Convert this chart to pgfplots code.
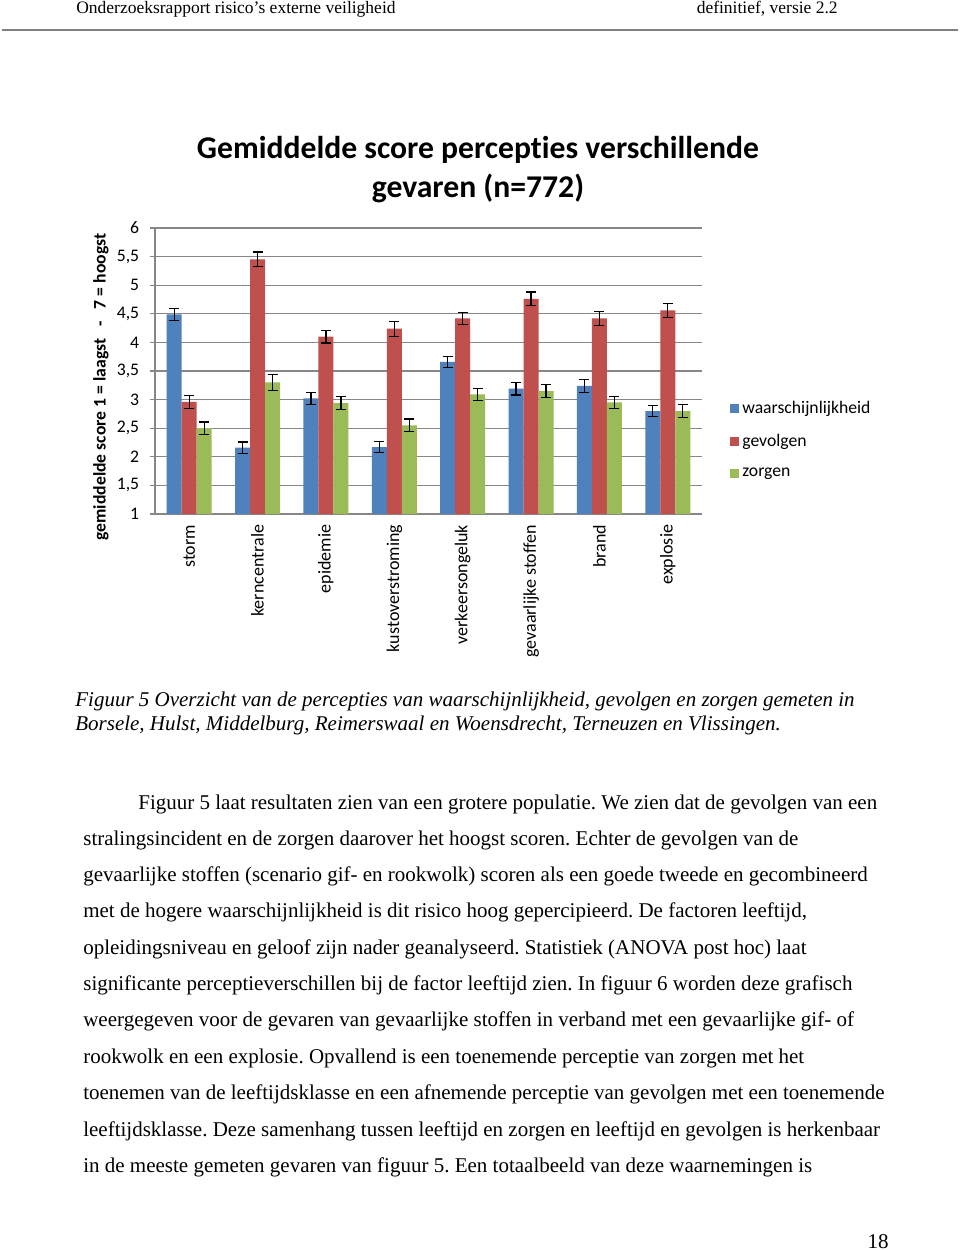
\documentclass[border=0pt]{standalone}
\usepackage{pgfplots}
\pgfplotsset{compat=1.18}
\usepackage{pgfplotstable}
\usepackage{fontspec}
\setmainfont{Liberation Serif}
\newfontfamily\calfont[Ligatures=NoCommon]{Carlito}
\definecolor{cblue}{HTML}{4F81BD}
\definecolor{cred}{HTML}{C0504D}
\definecolor{cgreen}{HTML}{9BBB59}
\definecolor{cgrid}{HTML}{878787}
\frenchspacing

\pgfplotstableread{
x w ew g eg z ez
0 4.49 0.11 2.96 0.11 2.50 0.11
1 2.16 0.10 5.45 0.13 3.30 0.14
2 3.02 0.10 4.10 0.11 2.94 0.11
3 2.17 0.10 4.24 0.13 2.55 0.11
4 3.66 0.10 4.42 0.11 3.09 0.11
5 3.19 0.11 4.76 0.12 3.15 0.12
6 3.24 0.11 4.42 0.12 2.95 0.11
7 2.80 0.10 4.56 0.12 2.80 0.12
}\data

\begin{document}
\begin{tikzpicture}
\begin{scope}[x=0.6pt,y=-0.6pt]
\fill[white] (0,0) rectangle (960,1250);
\node[anchor=base west, inner sep=0, font=\fontsize{10.5}{12}\selectfont] at (76,13) {Onderzoeksrapport risico’s externe veiligheid};
\node[anchor=base east, inner sep=0, font=\fontsize{10.5}{12}\selectfont] at (838,13) {definitief, versie 2.2};
\draw[gray, line width=0.7pt] (2,30) -- (958,30);
\node[inner sep=0, font=\calfont\bfseries\fontsize{19}{22}\selectfont] at (478,150) {Gemiddelde score percepties verschillende};
\node[inner sep=0, font=\calfont\bfseries\fontsize{19}{22}\selectfont] at (478,188) {gevaren (n=772)};
\node[rotate=90, inner sep=0, font=\calfont\bfseries\fontsize{10.6}{12}\selectfont] at (101,387) {gemiddelde score 1 = laagst\ \ \ -\ \ \ 7 = hoogst};
\node[anchor=base west, inner sep=0, font=\itshape\fontsize{12.6}{14}\selectfont] at (75,706) {Figuur 5 Overzicht van de percepties van waarschijnlijkheid, gevolgen en zorgen gemeten in};
\node[anchor=base west, inner sep=0, font=\itshape\fontsize{12.6}{14}\selectfont] at (75,730) {Borsele, Hulst, Middelburg, Reimerswaal en Woensdrecht, Terneuzen en Vlissingen.};
\begin{scope}[every node/.style={anchor=base west, inner sep=0, font=\fontsize{12.6}{14}\selectfont}]
\node at (138,809) {Figuur 5 laat resultaten zien van een grotere populatie. We zien dat de gevolgen van een};
\node at (83,845) {stralingsincident en de zorgen daarover het hoogst scoren. Echter de gevolgen van de};
\node at (83,881) {gevaarlijke stoffen (scenario gif- en rookwolk) scoren als een goede tweede en gecombineerd};
\node at (83,917) {met de hogere waarschijnlijkheid is dit risico hoog gepercipieerd. De factoren leeftijd,};
\node at (83,954) {opleidingsniveau en geloof zijn nader geanalyseerd. Statistiek (ANOVA post hoc) laat};
\node at (83,990) {significante perceptieverschillen bij de factor leeftijd zien. In figuur 6 worden deze grafisch};
\node at (83,1026) {weergegeven voor de gevaren van gevaarlijke stoffen in verband met een gevaarlijke gif- of};
\node at (83,1063) {rookwolk en een explosie. Opvallend is een toenemende perceptie van zorgen met het};
\node at (83,1099) {toenemen van de leeftijdsklasse en een afnemende perceptie van gevolgen met een toenemende};
\node at (83,1136) {leeftijdsklasse. Deze samenhang tussen leeftijd en zorgen en leeftijd en gevolgen is herkenbaar};
\node at (83,1172) {in de meeste gemeten gevaren van figuur 5. Een totaalbeeld van deze waarnemingen is};
\node[anchor=base east] at (889,1248) {18};
\end{scope}
\end{scope}

\begin{axis}[
  at={(93pt,-308.4pt)}, anchor=south west,
  scale only axis, width=328.2pt, height=171.6pt,
  ybar=0pt, bar width=9pt,
  xmin=-0.5, xmax=7.5, ymin=1, ymax=6,
  xtick=data,
  xticklabels={storm,kerncentrale,epidemie,kustoverstroming,verkeersongeluk,gevaarlijke stoffen,brand,explosie},
  xticklabel style={rotate=90, anchor=east, font=\calfont\fontsize{10.8}{12}\selectfont},
  ytick={1,1.5,2,2.5,3,3.5,4,4.5,5,5.5,6},
  yticklabel style={font=\calfont\fontsize{10.6}{12}\selectfont, xshift=-3pt},
  /pgf/number format/assume math mode=true,
  /pgf/number format/use comma,
  axis lines*=left,
  axis line style={cgrid, line width=0.7pt},
  xtick style={draw=none},
  ytick style={cgrid, line width=0.7pt},
  tick align=outside, major tick length=3pt,
  ymajorgrids, grid style={cgrid, line width=0.7pt},
  legend style={at={(rel axis cs:1.05,0.408)}, anchor=north west, draw=none, fill=none,
    font=\calfont\fontsize{10.6}{12}\selectfont, row sep=7.2pt, inner sep=0pt},
  legend cell align=left,
  legend image code/.code={\fill[#1] (0pt,-2.8pt) rectangle (5.6pt,2.8pt);},
]
\addplot[fill=cblue, draw=none, error bars/.cd, y dir=both, y explicit,
  error bar style={black, line width=0.7pt}, error mark options={black, rotate=90, mark size=3pt, line width=0.7pt}]
  table[x=x, y=w, y error=ew]{\data};
\addplot[fill=cred, draw=none, error bars/.cd, y dir=both, y explicit,
  error bar style={black, line width=0.7pt}, error mark options={black, rotate=90, mark size=3pt, line width=0.7pt}]
  table[x=x, y=g, y error=eg]{\data};
\addplot[fill=cgreen, draw=none, error bars/.cd, y dir=both, y explicit,
  error bar style={black, line width=0.7pt}, error mark options={black, rotate=90, mark size=3pt, line width=0.7pt}]
  table[x=x, y=z, y error=ez]{\data};
\legend{waarschijnlijkheid,gevolgen,zorgen}
\end{axis}
\end{tikzpicture}
\end{document}
